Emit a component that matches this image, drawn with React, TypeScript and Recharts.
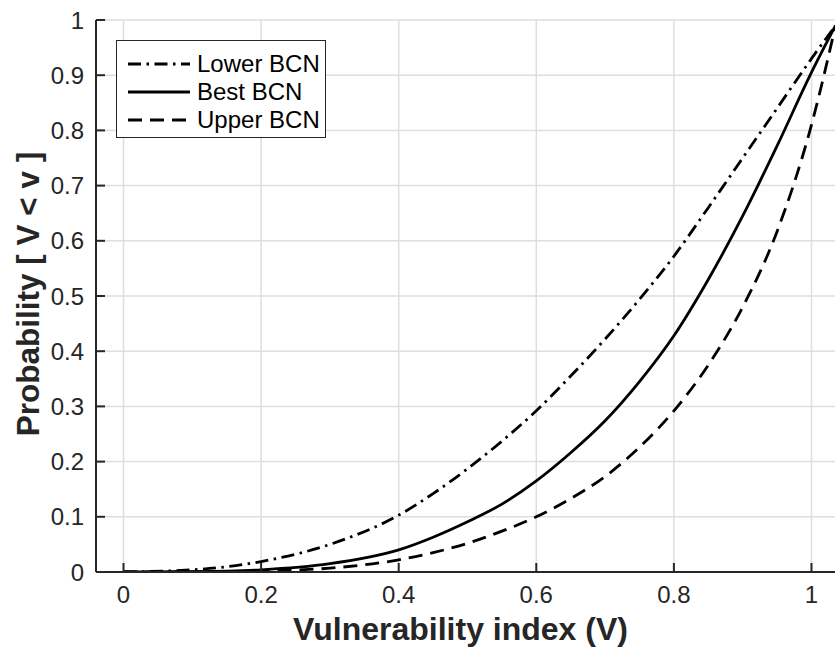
import React from "react";
import { LineChart, Line, XAxis, YAxis, CartesianGrid, Legend } from "recharts";

const xValues = [0, 0.1, 0.2, 0.3, 0.4, 0.45, 0.5, 0.55, 0.6, 0.65, 0.7, 0.75, 0.8, 0.85, 0.9, 0.95, 1.0, 1.035];
const lowerBCN = [0, 0.004, 0.019, 0.05, 0.103, 0.142, 0.187, 0.237, 0.292, 0.355, 0.422, 0.494, 0.572, 0.66, 0.75, 0.84, 0.93, 0.99];
const bestBCN = [0, 0.0007, 0.004, 0.015, 0.04, 0.063, 0.091, 0.123, 0.165, 0.216, 0.274, 0.345, 0.428, 0.53, 0.645, 0.772, 0.905, 0.99];
const upperBCN = [0, 0.0002, 0.002, 0.007, 0.022, 0.035, 0.052, 0.074, 0.1, 0.133, 0.173, 0.226, 0.292, 0.375, 0.48, 0.617, 0.81, 0.99];

const xTicks = [0, 0.2, 0.4, 0.6, 0.8, 1];
const yTicks = [0, 0.1, 0.2, 0.3, 0.4, 0.5, 0.6, 0.7, 0.8, 0.9, 1];
const xDomain = [-0.04, 1.04];
const yDomain = [0, 1];

const seriesNames = ["Lower BCN", "Best BCN", "Upper BCN"];

const rows = xValues.map((x, i) => ({
  x,
  lower: lowerBCN[i],
  best: bestBCN[i],
  upper: upperBCN[i],
}));

const FONT = "'Liberation Sans', Arial, Helvetica, sans-serif";
const AXIS = "#262626";
const TICK_LEN = 9;
const TICK_FONT = 24;

const DASHDOT = "13 5.5 2.5 5.5";
const DASHED = "14 8";

const BottomTick = (props: any) => {
  const { x, y, payload } = props;
  return (
    <g>
      <line x1={x} y1={y} x2={x} y2={y - TICK_LEN} stroke={AXIS} strokeWidth={2} />
      <text x={x} y={y + 31} textAnchor="middle" fill={AXIS} fontSize={TICK_FONT} fontFamily={FONT}>
        {String(payload.value)}
      </text>
    </g>
  );
};

const TopTick = (props: any) => {
  const { x, y } = props;
  return <line x1={x} y1={y} x2={x} y2={y + TICK_LEN} stroke={AXIS} strokeWidth={2} />;
};

const LeftTick = (props: any) => {
  const { x, y, payload } = props;
  return (
    <g>
      <line x1={x} y1={y} x2={x + TICK_LEN} y2={y} stroke={AXIS} strokeWidth={2} />
      <text x={x - 12} y={y + 8.5} textAnchor="end" fill={AXIS} fontSize={TICK_FONT} fontFamily={FONT}>
        {String(payload.value)}
      </text>
    </g>
  );
};

const RightTick = (props: any) => {
  const { x, y } = props;
  return <line x1={x} y1={y} x2={x - TICK_LEN} y2={y} stroke={AXIS} strokeWidth={2} />;
};

const legendItems = [
  { name: seriesNames[0], dash: DASHDOT },
  { name: seriesNames[1], dash: undefined },
  { name: seriesNames[2], dash: DASHED },
];

const LegendBox = () => (
  <div
    style={{
      position: "relative",
      width: 208,
      height: 96,
      border: `1px solid ${AXIS}`,
      background: "#fff",
      fontFamily: FONT,
    }}
  >
    {legendItems.map((it, i) => (
      <div
        key={it.name}
        style={{
          position: "absolute",
          left: 0,
          top: 8.7 + i * 28,
          height: 28,
          display: "flex",
          alignItems: "center",
        }}
      >
        <svg width={80} height={28} style={{ display: "block" }}>
          <line x1={11} x2={73} y1={14} y2={14} stroke="#000" strokeWidth={2.8} strokeDasharray={it.dash} />
        </svg>
        <span style={{ fontSize: 24, color: "#000", lineHeight: "28px", whiteSpace: "nowrap" }}>{it.name}</span>
      </div>
    ))}
  </div>
);

const XTitle = (props: any) => {
  const vb = props.viewBox || {};
  return (
    <text
      x={vb.x + vb.width / 2 - 7}
      y={vb.y + 68}
      textAnchor="middle"
      fill={AXIS}
      fontSize={32}
      fontWeight="bold"
      fontFamily={FONT}
    >
      Vulnerability index (V)
    </text>
  );
};

const YTitle = (props: any) => {
  const vb = props.viewBox || {};
  const cx = vb.x + 30.5;
  const cy = vb.y + vb.height / 2 - 2;
  return (
    <text
      x={cx}
      y={cy}
      transform={`rotate(-90 ${cx} ${cy})`}
      textAnchor="middle"
      fill={AXIS}
      fontSize={31.5}
      fontWeight="bold"
      fontFamily={FONT}
    >
      Probability [ V &lt; v ]
    </text>
  );
};

export default function App() {
  return (
    <div style={{ position: "absolute", left: 0, top: 0, width: 835, height: 650, overflow: "hidden" }}>
      <LineChart width={848} height={650} data={rows} margin={{ top: 20, right: 9, bottom: 0, left: 8 }}>
        <CartesianGrid stroke="#dedede" strokeWidth={1.5} vertical horizontal />
        <XAxis
          dataKey="x"
          type="number"
          domain={xDomain}
          ticks={xTicks}
          allowDataOverflow
          height={78}
          tickSize={0}
          tickMargin={0}
          tickLine={false}
          tick={<BottomTick />}
          axisLine={{ stroke: AXIS, strokeWidth: 2 }}
          label={<XTitle />}
        />
        <XAxis
          xAxisId="top"
          orientation="top"
          dataKey="x"
          type="number"
          domain={xDomain}
          ticks={xTicks}
          allowDataOverflow
          height={0}
          tickSize={0}
          tickMargin={0}
          tickLine={false}
          tick={<TopTick />}
          axisLine={{ stroke: AXIS, strokeWidth: 2 }}
        />
        <YAxis
          type="number"
          domain={yDomain}
          ticks={yTicks}
          allowDataOverflow
          width={88}
          tickSize={0}
          tickMargin={0}
          tickLine={false}
          tick={<LeftTick />}
          axisLine={{ stroke: AXIS, strokeWidth: 2 }}
          label={<YTitle />}
        />
        <YAxis
          yAxisId="right"
          orientation="right"
          type="number"
          domain={yDomain}
          ticks={yTicks}
          allowDataOverflow
          width={0}
          tickSize={0}
          tickMargin={0}
          tickLine={false}
          tick={<RightTick />}
          axisLine={{ stroke: AXIS, strokeWidth: 2 }}
        />
        <Legend
          layout="horizontal"
          verticalAlign="middle"
          align="center"
          content={() => <LegendBox />}
          wrapperStyle={{ left: 116, top: 40, width: 210, height: 98 }}
        />
        <Line
          type="monotone"
          dataKey="lower"
          name={seriesNames[0]}
          stroke="#000"
          strokeWidth={2.8}
          strokeDasharray={DASHDOT}
          dot={false}
          isAnimationActive={false}
        />
        <Line
          type="monotone"
          dataKey="best"
          name={seriesNames[1]}
          stroke="#000"
          strokeWidth={2.8}
          dot={false}
          isAnimationActive={false}
        />
        <Line
          type="monotone"
          dataKey="upper"
          name={seriesNames[2]}
          stroke="#000"
          strokeWidth={2.8}
          strokeDasharray={DASHED}
          dot={false}
          isAnimationActive={false}
        />
      </LineChart>
    </div>
  );
}
